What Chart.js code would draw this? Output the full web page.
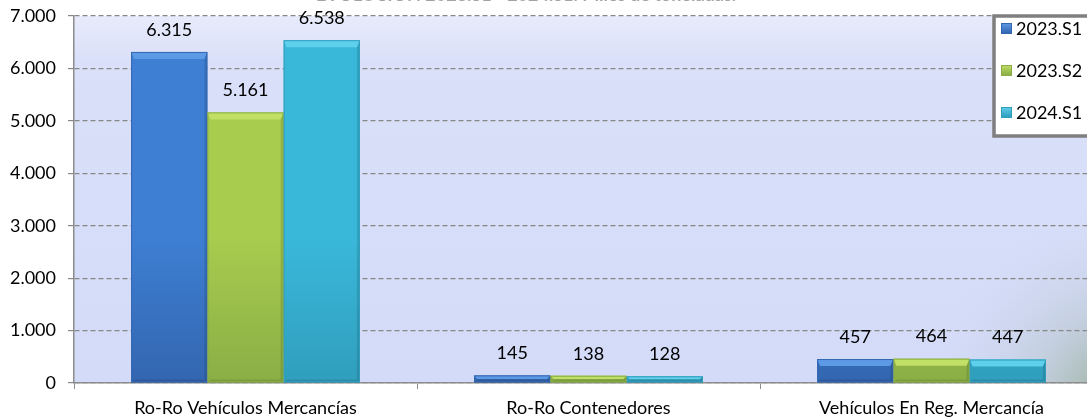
<!DOCTYPE html>
<html>
<head>
<meta charset="utf-8">
<script src="https://cdn.jsdelivr.net/npm/chart.js@4.4.1/dist/chart.umd.min.js"></script>
<style>
  html, body { margin: 0; padding: 0; background: #fff; overflow: hidden; }
  body { width: 1087px; height: 419px; position: relative; }
  #wrap { position: absolute; left: 0; top: -26px; width: 1140px; height: 445px; }
</style>
</head>
<body>
<div id="wrap"><canvas id="chart"></canvas></div>
<script>
// ---------------- datos ----------------
const categories = ["Ro-Ro Vehículos Mercancías", "Ro-Ro Contenedores", "Vehículos En Reg. Mercancía"];
const s2023S1 = [6315, 145, 457];
const s2023S2 = [5161, 138, 464];
const s2024S1 = [6538, 128, 447];
const seriesNames = ["2023.S1", "2023.S2", "2024.S1"];
const yTicks = [0, 1000, 2000, 3000, 4000, 5000, 6000, 7000];
const titleText = "EVOLUCIÓN 2023.S1 - 2024.S1. Miles de toneladas.";

const FONT = "Lato, 'Open Sans', sans-serif";
// colores: claro, medio, oscuro
const palette = [
  ["#5d9ae6", "#3e7fd3", "#3366b0"],
  ["#c2df66", "#a8cc4e", "#8aae45"],
  ["#5fd0ec", "#3ab8da", "#309ebd"]
];

function fmt(v) {
  return v.toLocaleString("de-DE");
}

function barFill(idx) {
  return function (ctx) {
    const area = ctx.chart.chartArea;
    if (!area) return palette[idx][1];
    const g = ctx.chart.ctx.createLinearGradient(0, area.top, 0, area.bottom);
    g.addColorStop(0, palette[idx][1]);
    g.addColorStop(0.6, palette[idx][1]);
    g.addColorStop(1, palette[idx][2]);
    return g;
  };
}

// fondo del área de trazado
const plotBackground = {
  id: "plotBackground",
  beforeDraw(chart) {
    const { ctx, chartArea: a } = chart;
    ctx.save();
    let g = ctx.createLinearGradient(a.left, a.top, a.left, a.bottom);
    g.addColorStop(0, "#e8ebfb");
    g.addColorStop(0.12, "#dae0f9");
    g.addColorStop(1, "#d3dbf8");
    ctx.fillStyle = g;
    ctx.fillRect(a.left, a.top, a.right - a.left, a.bottom - a.top);
    // esquina inferior derecha verdosa
    const rg = ctx.createRadialGradient(a.right + 20, a.bottom + 20, 0, a.right + 20, a.bottom + 20, 200);
    rg.addColorStop(0, "rgba(135,165,125,0.9)");
    rg.addColorStop(0.45, "rgba(175,190,190,0.45)");
    rg.addColorStop(1, "rgba(211,219,248,0)");
    ctx.fillStyle = rg;
    ctx.fillRect(a.left, a.top, a.right - a.left, a.bottom - a.top);
    ctx.restore();
  }
};

// biselado de las barras + etiquetas de valor
const barExtras = {
  id: "barExtras",
  afterDatasetsDraw(chart) {
    const ctx = chart.ctx;
    ctx.save();
    chart.data.datasets.forEach((ds, di) => {
      const meta = chart.getDatasetMeta(di);
      meta.data.forEach((bar, i) => {
        const l = bar.x - bar.width / 2, r = bar.x + bar.width / 2;
        const t = bar.y, b = bar.base;
        const h = b - t;
        const bt = Math.min(7, h / 2);
        const bs = Math.min(3, h / 2);
        // bisel superior
        ctx.fillStyle = palette[di][0];
        ctx.beginPath();
        ctx.moveTo(l, t); ctx.lineTo(r, t); ctx.lineTo(r - bs, t + bt); ctx.lineTo(l + bs, t + bt);
        ctx.closePath(); ctx.fill();
        // bisel derecho oscuro
        ctx.fillStyle = "rgba(0,0,0,0.12)";
        ctx.beginPath();
        ctx.moveTo(r, t); ctx.lineTo(r - bs, t + bt); ctx.lineTo(r - bs, b - bs); ctx.lineTo(r, b);
        ctx.closePath(); ctx.fill();
        // bisel inferior oscuro
        ctx.fillStyle = "rgba(0,0,0,0.1)";
        ctx.beginPath();
        ctx.moveTo(l, b); ctx.lineTo(l + bs, b - bs); ctx.lineTo(r - bs, b - bs); ctx.lineTo(r, b);
        ctx.closePath(); ctx.fill();
        // borde
        ctx.strokeStyle = palette[di][2];
        ctx.lineWidth = 1;
        ctx.strokeRect(l + 0.5, t + 0.5, r - l - 1, h - 1);
        // etiqueta
        ctx.fillStyle = "#000";
        ctx.font = "18px " + FONT;
        ctx.textAlign = "center";
        ctx.textBaseline = "middle";
        ctx.fillText(fmt(ds.data[i]), bar.x, t - 22);
      });
    });
    ctx.restore();
  }
};

// título (cortado arriba) y leyenda
const titleLegend = {
  id: "titleLegend",
  afterDraw(chart) {
    const ctx = chart.ctx;
    ctx.save();
    ctx.fillStyle = "#a3a3a3";
    ctx.font = "bold 18px " + FONT;
    ctx.textAlign = "left";
    ctx.textBaseline = "alphabetic";
    ctx.fillText(titleText, 316, 27);

    // caja de leyenda
    const lx = 994, ly = 42, lw = 130, lh = 120;
    ctx.fillStyle = "#fff";
    ctx.fillRect(lx, ly, lw, lh);
    ctx.strokeStyle = "#7f7f7f";
    ctx.lineWidth = 3.5;
    ctx.strokeRect(lx, ly, lw, lh);
    chart.data.datasets.forEach((ds, di) => {
      const cy = 54 + di * 42;
      const g = ctx.createLinearGradient(0, cy - 5, 0, cy + 5);
      g.addColorStop(0, palette[di][0]);
      g.addColorStop(1, palette[di][2]);
      ctx.fillStyle = g;
      ctx.fillRect(1001, cy - 5, 11, 11);
      ctx.strokeStyle = palette[di][2];
      ctx.lineWidth = 1;
      ctx.strokeRect(1001.5, cy - 4.5, 10, 10);
      ctx.fillStyle = "#000";
      ctx.font = "18px " + FONT;
      ctx.textBaseline = "middle";
      ctx.fillText(ds.label, 1016, cy + 1);
    });
    ctx.restore();
  }
};

const seriesValues = [s2023S1, s2023S2, s2024S1];

new Chart(document.getElementById("chart"), {
  type: "bar",
  data: {
    labels: categories,
    datasets: seriesNames.map((name, di) => ({
      label: name,
      data: seriesValues[di],
      backgroundColor: barFill(di),
      borderWidth: 0,
      categoryPercentage: 0.667,
      barPercentage: 1
    }))
  },
  options: {
    responsive: true,
    maintainAspectRatio: false,
    animation: false,
    layout: { padding: { left: 0, right: 37, top: 42, bottom: 0 } },
    plugins: {
      legend: { display: false },
      tooltip: { enabled: false },
      title: { display: false }
    },
    scales: {
      x: {
        grid: {
          display: true,
          drawOnChartArea: false,
          drawTicks: true,
          tickLength: 6,
          color: "#8c8c8c",
          offset: true
        },
        border: { display: true, color: "#8c8c8c", width: 1.5 },
        ticks: {
          color: "#000",
          font: { family: FONT, size: 18 },
          padding: 8,
          maxRotation: 0
        },
        afterFit(scale) { scale.height = 36; }
      },
      y: {
        min: 0,
        max: 7000,
        afterBuildTicks(scale) { scale.ticks = yTicks.map(v => ({ value: v })); },
        grid: {
          color: "#878787",
          lineWidth: 1.2,
          tickLength: 6,
          drawTicks: true
        },
        border: { display: true, color: "#8c8c8c", width: 1.5, dash: [5, 3] },
        ticks: {
          color: "#000",
          font: { family: FONT, size: 18 },
          padding: 12,
          callback: v => fmt(v)
        },
        afterFit(scale) { scale.width = 74; }
      }
    }
  },
  plugins: [plotBackground, barExtras, titleLegend]
});
</script>
</body>
</html>
